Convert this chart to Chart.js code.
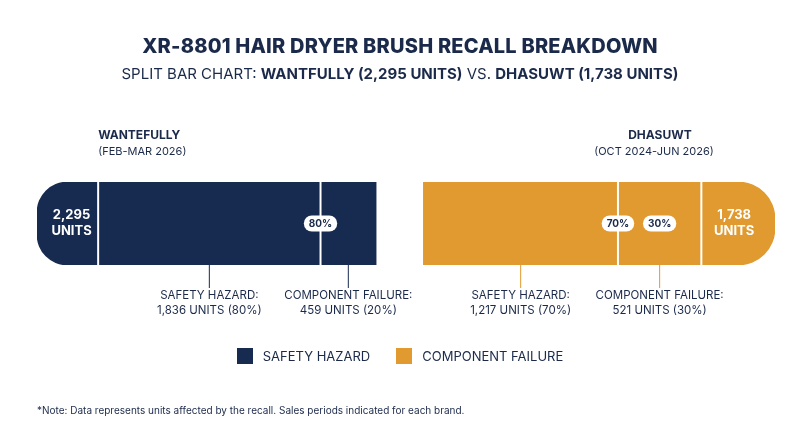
<!DOCTYPE html>
<html>
<head>
<meta charset="utf-8">
<script src="https://cdn.jsdelivr.net/npm/chart.js@4"></script>
<style>
  body { margin: 0; background: #fff; font-family: Inter, "Open Sans", sans-serif; color: #1b2a4a; }
  #wrap { position: relative; width: 800px; height: 447px; }
  canvas { position: absolute; left: 0; top: 0; }
  .t { position: absolute; left: 0; width: 800px; text-align: center; }
  #title { top: 34px; font-size: 20px; font-weight: 800; letter-spacing: 0.2px; }
  #sub { top: 64px; font-size: 15px; }
  #legend { top: 348px; font-size: 13px; }
  #legend span.sw { display: inline-block; width: 16px; height: 16px; vertical-align: -3px; margin-right: 10px; }
  #note { position: absolute; left: 37px; top: 404px; font-size: 10px; }
</style>
</head>
<body>
<div id="wrap">
  <canvas id="c" width="800" height="447"></canvas>
  <div class="t" id="title">XR-8801 HAIR DRYER BRUSH RECALL BREAKDOWN</div>
  <div class="t" id="sub">SPLIT BAR CHART: <b>WANTFULLY (2,295 UNITS)</b> VS. <b>DHASUWT (1,738 UNITS)</b></div>
  <div class="t" id="legend"><span class="sw" style="background:#172a4f"></span>SAFETY HAZARD<span class="sw" style="background:#e09a2f;margin-left:26px"></span>COMPONENT FAILURE</div>
  <div id="note">*Note: Data represents units affected by the recall. Sales periods indicated for each brand.</div>
</div>
<script>
// data
const brands = ["WANTEFULLY", "DHASUWT"];
const periods = ["(FEB-MAR 2026)", "(OCT 2024-JUN 2026)"];
const totals = [2295, 1738];
const safetyUnits = [1836, 1217];
const componentUnits = [459, 521];
const safetyPct = [80, 70];
const componentPct = [20, 30];

// layout widths in percent-units of the x scale
const LEFT_CAP = 22, GAP = 17, RIGHT_CAP = 26.5;
const NAVY = "#172a4f", ORANGE = "#e09a2f", INK = "#1b2a4a";

const fmt = n => n.toLocaleString("en-US");

const segs = [
  { w: LEFT_CAP, c: NAVY, r: { topLeft: 42, bottomLeft: 42 } },
  { w: safetyPct[0], c: NAVY },
  { w: componentPct[0], c: NAVY },
  { w: GAP, c: "rgba(0,0,0,0)" },
  { w: safetyPct[1], c: ORANGE },
  { w: componentPct[1], c: ORANGE },
  { w: RIGHT_CAP, c: ORANGE, r: { topRight: 42, bottomRight: 42 } }
];
const total = segs.reduce((a, s) => a + s.w, 0);

function pill(ctx, x, y, text) {
  ctx.font = "bold 10px Inter, sans-serif";
  const w = ctx.measureText(text).width + 10, h = 16;
  ctx.fillStyle = "#fff";
  ctx.beginPath();
  ctx.roundRect(x - w / 2, y - h / 2, w, h, 8);
  ctx.fill();
  ctx.fillStyle = INK;
  ctx.textAlign = "center";
  ctx.textBaseline = "middle";
  ctx.fillText(text, x, y + 0.5);
}

const overlay = {
  id: "overlay",
  afterDatasetsDraw(chart) {
    const ctx = chart.ctx, xs = chart.scales.x, a = chart.chartArea;
    const px = v => xs.getPixelForValue(v);
    const edges = [];
    let acc = 0;
    segs.forEach(s => { edges.push([acc, acc + s.w]); acc += s.w; });
    ctx.save();
    ctx.strokeStyle = "#fff";
    ctx.lineWidth = 2;
    [edges[0][1], edges[1][1], edges[4][1], edges[5][1]].forEach(v => {
      ctx.beginPath(); ctx.moveTo(px(v), a.top); ctx.lineTo(px(v), a.bottom); ctx.stroke();
    });
    ctx.fillStyle = "#fff";
    ctx.font = "bold 13px Inter, sans-serif";
    ctx.textAlign = "center";
    ctx.textBaseline = "middle";
    const mid = (a.top + a.bottom) / 2;
    [[0, 0], [6, 1]].forEach(([i, b]) => {
      const cx = px((edges[i][0] + edges[i][1]) / 2) + (i === 0 ? 4 : -4);
      ctx.fillText(fmt(totals[b]), cx, mid - 8);
      ctx.fillText("UNITS", cx, mid + 8);
    });
    pill(ctx, px(edges[1][1]), mid, safetyPct[0] + "%");
    pill(ctx, px(edges[4][1]), mid, safetyPct[1] + "%");
    pill(ctx, px((edges[5][0] + edges[5][1]) / 2), mid, componentPct[1] + "%");
    const labels = [
      [1, NAVY, "SAFETY HAZARD:", fmt(safetyUnits[0]) + " UNITS (" + safetyPct[0] + "%)"],
      [2, NAVY, "COMPONENT FAILURE:", fmt(componentUnits[0]) + " UNITS (" + componentPct[0] + "%)"],
      [4, ORANGE, "SAFETY HAZARD:", fmt(safetyUnits[1]) + " UNITS (" + safetyPct[1] + "%)"],
      [5, ORANGE, "COMPONENT FAILURE:", fmt(componentUnits[1]) + " UNITS (" + componentPct[1] + "%)"]
    ];
    labels.forEach(([i, col, l1, l2]) => {
      const cx = px((edges[i][0] + edges[i][1]) / 2);
      ctx.strokeStyle = col; ctx.lineWidth = 1;
      ctx.beginPath(); ctx.moveTo(cx, a.bottom); ctx.lineTo(cx, a.bottom + 23); ctx.stroke();
      ctx.fillStyle = INK;
      ctx.font = "11.5px Inter, sans-serif";
      ctx.fillText(l1, cx, a.bottom + 31);
      ctx.fillText(l2, cx, a.bottom + 46);
    });
    ctx.fillStyle = INK;
    ctx.textAlign = "left";
    ctx.font = "bold 12px Inter, sans-serif";
    ctx.fillText(brands[0], px(edges[1][0]), 135);
    ctx.font = "11px Inter, sans-serif";
    ctx.fillText(periods[0], px(edges[1][0]), 152);
    ctx.textAlign = "center";
    const rc = px(edges[5][0]) + 42;
    ctx.font = "bold 12px Inter, sans-serif";
    ctx.fillText(brands[1], rc, 135);
    ctx.font = "11px Inter, sans-serif";
    ctx.fillText(periods[1], rc - 6, 152);
    ctx.restore();
  }
};

new Chart(document.getElementById("c"), {
  type: "bar",
  data: {
    labels: ["recall"],
    datasets: segs.map(s => ({
      data: [s.w],
      backgroundColor: s.c,
      borderRadius: s.r || 0,
      borderSkipped: false,
      barPercentage: 1,
      categoryPercentage: 1
    }))
  },
  options: {
    indexAxis: "y",
    responsive: false,
    animation: false,
    layout: { padding: { left: 37, right: 25, top: 182, bottom: 182 } },
    plugins: { legend: { display: false }, tooltip: { enabled: false } },
    scales: {
      x: { stacked: true, min: 0, max: total, display: false },
      y: { stacked: true, display: false }
    }
  },
  plugins: [overlay]
});
</script>
</body>
</html>
